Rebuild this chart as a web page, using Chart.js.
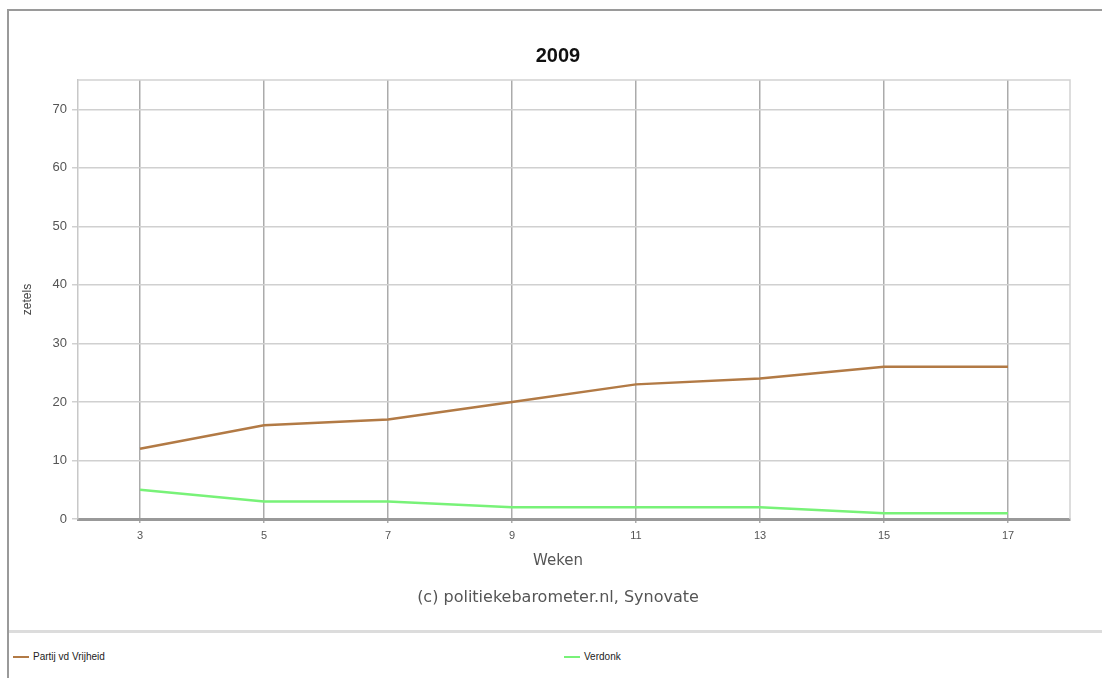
<!DOCTYPE html>
<html>
<head>
<meta charset="utf-8">
<script src="https://cdn.jsdelivr.net/npm/chart.js@4"></script>
<style>
  html, body { margin: 0; padding: 0; background: #fff; }
  body { width: 1102px; height: 678px; overflow: hidden; position: relative; }
  #frame {
    position: absolute; left: 7px; top: 9px; width: 1095px; height: 669px;
    border-left: 2px solid #9a9a9a; border-top: 2px solid #9a9a9a;
  }
  #wrap { position: absolute; left: 1px; top: 1px; width: 1094px; height: 600px; }
  .label {
    position: absolute; left: 249px; width: 600px; text-align: center; white-space: nowrap;
  }
  #title { top: 33px; line-height: 24px; font: bold 20px Arial, "Liberation Sans", sans-serif; color: #111; }
  #xtitle { top: 540px; line-height: 18px; font: 15px "DejaVu Sans", Verdana, sans-serif; color: #555; }
  #credit { top: 576px; line-height: 20px; font: 16px "DejaVu Sans", Verdana, sans-serif; color: #555; }
  #sep {
    position: absolute; left: 0; top: 619px; width: 1095px; height: 3px;
    background: #dcdcdc;
  }
  #legend {
    position: absolute; left: 4px; top: 640px; width: 1090px;
    display: grid; grid-template-columns: 551px 1fr;
    font: 10px "Liberation Sans", Arial, sans-serif; color: #222;
  }
  .item { display: flex; align-items: center; }
  .swatch { width: 16px; height: 2px; margin-right: 4px; }
</style>
</head>
<body>
<div id="frame">
  <div id="wrap"><canvas id="barometerChart"></canvas></div>
  <div class="label" id="title">2009</div>
  <div class="label" id="xtitle">Weken</div>
  <div class="label" id="credit">(c) politiekebarometer.nl, Synovate</div>
  <div id="sep"></div>
  <div id="legend"></div>
</div>
<script>
// Data
const weeks = ['3', '5', '7', '9', '11', '13', '15', '17'];
const pvvSeats = [12, 16, 17, 20, 23, 24, 26, 26];
const verdonkSeats = [5, 3, 3, 2, 2, 2, 1, 1];
const yTicks = [0, 10, 20, 30, 40, 50, 60, 70];

// Light frame around the plot area
const plotFrame = {
    id: 'plotFrame',
    beforeDatasetsDraw(chart) {
        const { ctx, chartArea: a } = chart;
        ctx.save();
        ctx.strokeStyle = '#d2d2d2';
        ctx.lineWidth = 1.5;
        ctx.beginPath();
        ctx.moveTo(a.left, a.top);
        ctx.lineTo(a.right, a.top);
        ctx.lineTo(a.right, a.bottom);
        ctx.stroke();
        ctx.restore();
    }
};

const ctx = document.getElementById('barometerChart').getContext('2d');
const chart = new Chart(ctx, {
    type: 'line',
    data: {
        labels: weeks,
        datasets: [{
            label: 'Partij vd Vrijheid',
            data: pvvSeats,
            borderColor: '#b27a45',
            borderWidth: 2.5,
            pointRadius: 0,
            tension: 0
        }, {
            label: 'Verdonk',
            data: verdonkSeats,
            borderColor: '#78f278',
            borderWidth: 2.5,
            pointRadius: 0,
            tension: 0
        }]
    },
    options: {
        responsive: true,
        maintainAspectRatio: false,
        animation: false,
        layout: { padding: { left: 6, right: 34, top: 68, bottom: 63 } },
        plugins: {
            legend: { display: false },
            tooltip: { enabled: false }
        },
        scales: {
            x: {
                offset: true,
                grid: { offset: false, color: '#ababab', lineWidth: 1.5, tickLength: 4 },
                border: { color: '#999', width: 3 },
                ticks: {
                    color: '#555',
                    padding: 6,
                    maxRotation: 0,
                    font: { family: 'Arial, "Liberation Sans", sans-serif', size: 11 }
                },
                afterFit(scale) { scale.height = 30; }
            },
            y: {
                min: 0,
                max: 75,
                afterBuildTicks(scale) {
                    scale.ticks = yTicks.map(v => ({ value: v }));
                },
                grid: { color: '#d0d0d0', lineWidth: 1.5, tickLength: 6 },
                border: { color: '#c8c8c8', width: 1.5 },
                ticks: {
                    color: '#555',
                    padding: 5,
                    font: { family: 'Arial, "Liberation Sans", sans-serif', size: 13 }
                },
                title: {
                    display: true,
                    text: 'zetels',
                    color: '#444',
                    font: { family: 'Arial, "Liberation Sans", sans-serif', size: 12 },
                    padding: { top: 4, bottom: 4 }
                },
                afterFit(scale) { scale.width = 62; }
            }
        }
    },
    plugins: [plotFrame]
});

// Legend below the separator, built from the datasets
const legendEl = document.getElementById('legend');
chart.data.datasets.forEach(ds => {
    const item = document.createElement('div');
    item.className = 'item';
    item.innerHTML = `<span class="swatch" style="background:${ds.borderColor}"></span><span>${ds.label}</span>`;
    legendEl.appendChild(item);
});
</script>
</body>
</html>
